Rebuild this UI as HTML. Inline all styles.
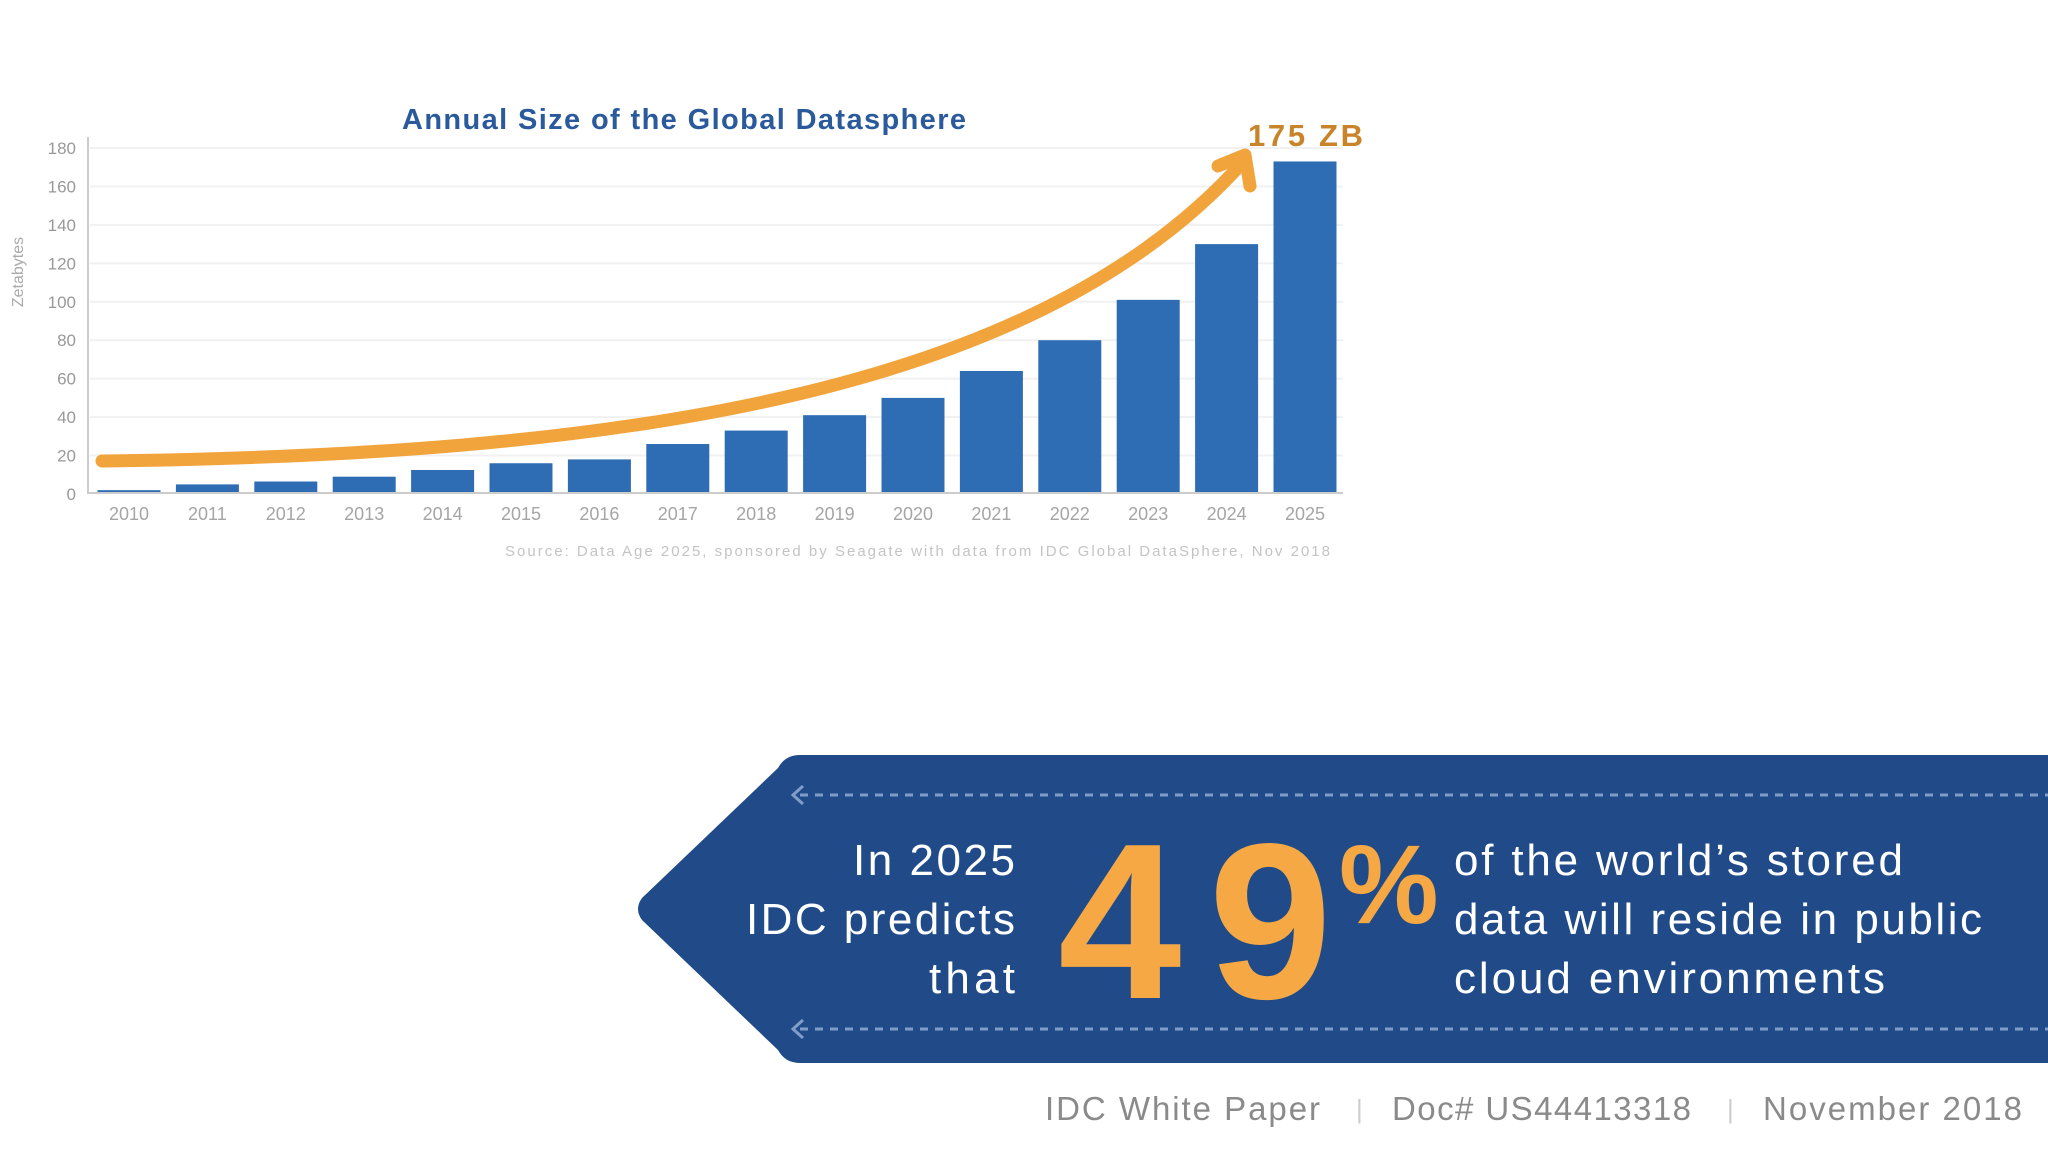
<!DOCTYPE html>
<html><head><meta charset="utf-8"><style>
html,body{margin:0;padding:0;background:#fff}
svg{display:block}
text{font-family:"Liberation Sans",sans-serif}
</style></head><body>
<svg id="root" width="2048" height="1152" viewBox="0 0 2048 1152">
<g id="chart">
<text x="402" y="129" font-size="29" font-weight="bold" fill="#2a5a9c" textLength="564">Annual Size of the Global Datasphere</text>
<text transform="translate(23,272) rotate(-90)" text-anchor="middle" font-size="16" fill="#aaa">Zetabytes</text>
<g id="grid"></g>
<g id="yticks"></g>
<g id="bars"></g>
<g id="xticks"></g>
<line x1="88" y1="137" x2="88" y2="494" stroke="#ccc" stroke-width="2"/>
<line x1="88" y1="493" x2="1343" y2="493" stroke="#ccc" stroke-width="2"/>
<path d="M102,461 C600,455 1030,400 1243,162" fill="none" stroke="#f2a43c" stroke-width="13" stroke-linecap="round"/>
<path d="M1218,166 L1245,155 L1250,186" fill="none" stroke="#f2a43c" stroke-width="13" stroke-linecap="round" stroke-linejoin="round"/>
<text x="1248" y="146" font-size="31" font-weight="bold" fill="#c8842a" textLength="115">175 ZB</text>
<text x="505" y="556" font-size="15" fill="#c4c4c4" textLength="825">Source: Data Age 2025, sponsored by Seagate with data from IDC Global DataSphere, Nov 2018</text>
</g>
<g>
<path d="M2048,755 L800,755 Q785,755 778,768 L642,898 Q634,909 642,920 L778,1050 Q785,1063 800,1063 L2048,1063 Z" fill="#204b88"/>
<line x1="800" y1="795" x2="2048" y2="795" stroke="#7f9dc8" stroke-width="3" stroke-dasharray="8,7"/>
<path d="M803,786 L793,795 L803,804" fill="none" stroke="#7f9dc8" stroke-width="3"/>
<line x1="800" y1="1029" x2="2048" y2="1029" stroke="#7f9dc8" stroke-width="3" stroke-dasharray="8,7"/>
<path d="M803,1020 L793,1029 L803,1038" fill="none" stroke="#7f9dc8" stroke-width="3"/>
<g font-size="44" fill="#fff">
<text x="853" y="875" textLength="162">In 2025</text>
<text x="746" y="934" textLength="269">IDC predicts</text>
<text x="929" y="993" textLength="86">that</text>
</g>
<text x="1058" y="998" font-size="222" font-weight="bold" fill="#f5a843" textLength="274">49</text>
<text x="1339" y="923" font-size="112" font-weight="bold" fill="#f5a843" textLength="91">%</text>
<g font-size="44" fill="#fff">
<text x="1454" y="875" textLength="449">of the world’s stored</text>
<text x="1454" y="934" textLength="528">data will reside in public</text>
<text x="1454" y="993" textLength="431">cloud environments</text>
</g>
</g>
<g font-size="33" fill="#8a8a8a">
<text x="1045" y="1120" textLength="275">IDC White Paper</text>
<text x="1356" y="1118" font-size="26" fill="#ccc">|</text>
<text x="1392" y="1120" textLength="299">Doc# US44413318</text>
<text x="1727" y="1118" font-size="26" fill="#ccc">|</text>
<text x="1763" y="1120" textLength="259">November 2018</text>
</g>
</svg>
<script>
const years = ["2010","2011","2012","2013","2014","2015","2016","2017","2018","2019","2020","2021","2022","2023","2024","2025"];
const values = [2, 5, 6.5, 9, 12.5, 16, 18, 26, 33, 41, 50, 64, 80, 101, 130, 173];
const yTicks = [0, 20, 40, 60, 80, 100, 120, 140, 160, 180];
const NS = "http://www.w3.org/2000/svg";
function yScale(v){ return 494 - v * (494 - 148) / 180; }
function xScale(i){ return 129 + i * 78.4; }
const grid = document.getElementById('grid'), yt = document.getElementById('yticks');
yTicks.forEach(t => {
  const y = yScale(t);
  if (t > 0) {
    const l = document.createElementNS(NS,'line');
    l.setAttribute('x1',90); l.setAttribute('x2',1343); l.setAttribute('y1',y); l.setAttribute('y2',y);
    l.setAttribute('stroke','#f1f1f1'); l.setAttribute('stroke-width','2');
    
    
    grid.appendChild(l);
  }
  const tx = document.createElementNS(NS,'text');
  tx.setAttribute('x',76); tx.setAttribute('y',y+6); tx.setAttribute('text-anchor','end');
  tx.setAttribute('font-size','17'); tx.setAttribute('fill','#999');
  tx.textContent = t;
  
  
  yt.appendChild(tx);
});
const bars = document.getElementById('bars'), xt = document.getElementById('xticks');
years.forEach((yr,i) => {
  const cx = xScale(i), top = yScale(values[i]);
  const r = document.createElementNS(NS,'rect');
  r.setAttribute('x',cx-31.5); r.setAttribute('width',63);
  r.setAttribute('y',top); r.setAttribute('height',494-top);
  r.setAttribute('fill','#2e6db4');
  
  
  bars.appendChild(r);
  const tx = document.createElementNS(NS,'text');
  tx.setAttribute('x',cx); tx.setAttribute('y',520); tx.setAttribute('text-anchor','middle');
  tx.setAttribute('font-size','18'); tx.setAttribute('fill','#a5a5a5');
  tx.textContent = yr;
  
  
  xt.appendChild(tx);
});
</script>
</body></html>
